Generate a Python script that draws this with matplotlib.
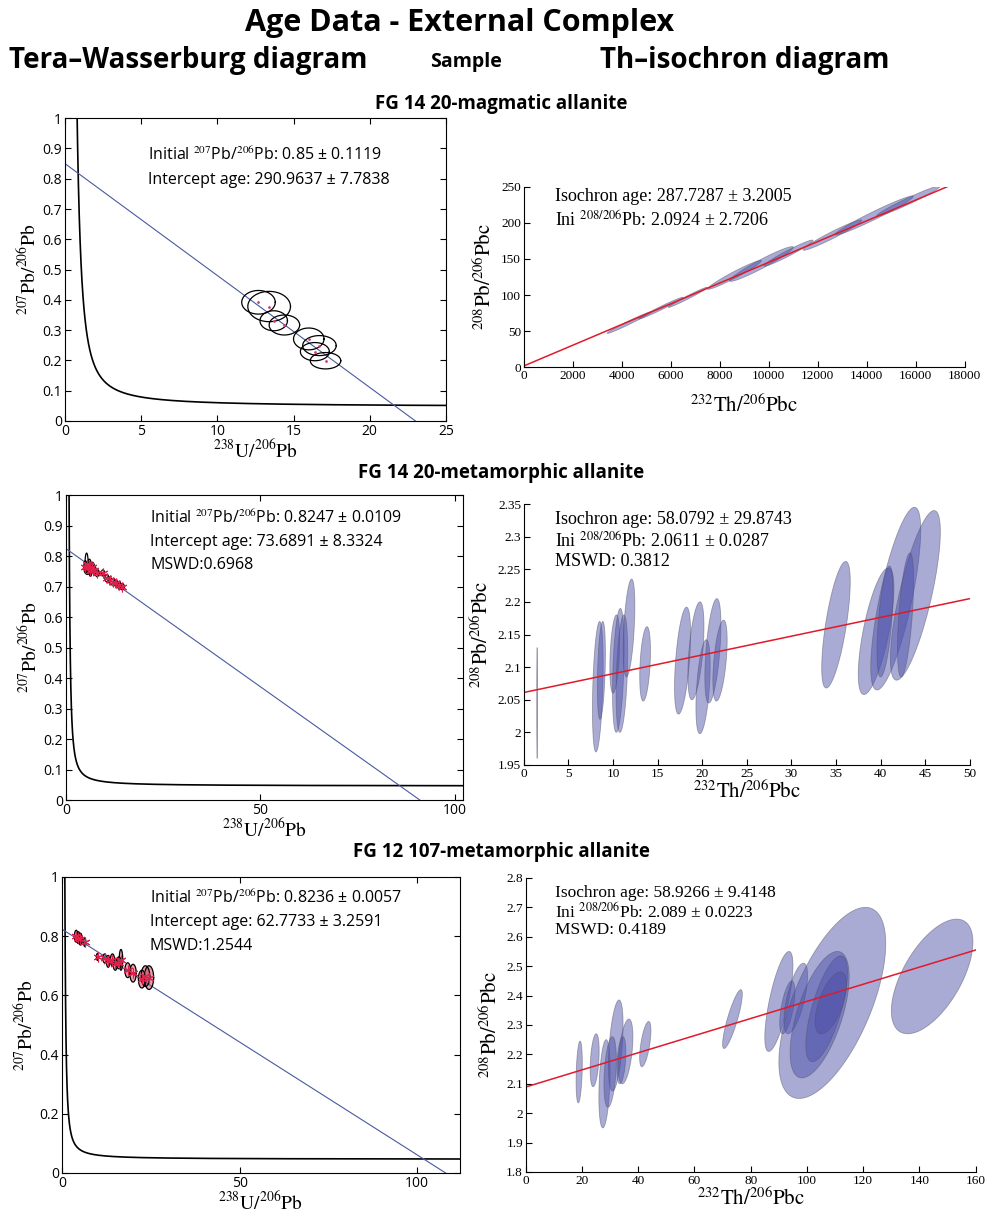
import numpy as np
import matplotlib
matplotlib.use('Agg')
import matplotlib.pyplot as plt

plt.rcParams['mathtext.fontset'] = 'stix'

# ---- data ----
# decay constants for the concordia curve (1/yr)
lam238 = 1.55125e-10
lam235 = 9.8485e-10
u_ratio = 137.88
conc_age = np.linspace(1e6, 6e9, 6000)

# Tera-Wasserburg, regression line: (initial 207/206, x-intercept)
tw1_line = (0.85, 23.0)
tw2_line = (0.8247, 91.0)
tw3_line = (0.8236, 108.0)

# TW error ellipses: centre x, centre y, half width, half height
tw1_x = [12.7, 13.4, 13.7, 14.4, 16.0, 16.7, 16.4, 17.1]
tw1_y = [0.392, 0.378, 0.331, 0.317, 0.271, 0.249, 0.229, 0.199]
tw1_sx = [1.1, 1.4, 0.9, 1.0, 1.0, 1.1, 0.95, 1.0]
tw1_sy = [0.039, 0.050, 0.033, 0.033, 0.036, 0.033, 0.030, 0.027]

tw2_x = [5.0, 5.3, 5.6, 6.0, 6.3, 6.8, 7.3, 8.0, 9.5, 10.5, 11.2, 12.0, 12.8, 13.6, 14.4]
tw2_y = [0.765, 0.775, 0.760, 0.770, 0.752, 0.765, 0.755, 0.745, 0.745, 0.728, 0.722,
         0.715, 0.712, 0.705, 0.700]
tw2_sx = [0.4, 0.4, 0.4, 0.5, 0.4, 0.5, 0.4, 0.5, 0.4, 0.5, 0.5, 0.6, 0.6, 0.6, 0.6]
tw2_sy = [0.020, 0.035, 0.020, 0.020, 0.018, 0.015, 0.015, 0.012, 0.010, 0.012, 0.010,
          0.010, 0.010, 0.010, 0.010]

tw3_x = [4.0, 4.6, 5.2, 6.4, 10.0, 12.0, 13.0, 14.2, 15.0, 16.0, 16.6, 18.5, 20.0, 22.5, 23.5, 24.5]
tw3_y = [0.800, 0.795, 0.790, 0.780, 0.730, 0.725, 0.715, 0.720, 0.705, 0.710, 0.720, 0.685,
         0.675, 0.655, 0.665, 0.660]
tw3_sx = [0.5, 0.5, 0.5, 0.3, 0.3, 0.5, 0.5, 0.6, 0.6, 0.7, 0.5, 0.8, 0.9, 1.0, 1.2, 1.3]
tw3_sy = [0.020, 0.020, 0.020, 0.015, 0.012, 0.015, 0.020, 0.020, 0.020, 0.020, 0.035, 0.025,
          0.030, 0.030, 0.035, 0.040]

# Th isochron: line end points
th1_line = ([0, 17300], [2.0924, 250])
th2_line = ([0, 50], [2.0611, 2.205])
th3_line = ([0, 160], [2.089, 2.555])

# Th isochron error ellipses: centre x, centre y, half width, half height, correlation
th1_x = [4300, 5600, 6700, 8600, 9700, 10800, 12600, 14300, 15700]
th1_y = [62, 82, 97, 128, 143, 158, 183, 210, 230]
th1_sx = [900, 900, 800, 1100, 1300, 1000, 1200, 1600, 1300]
th1_sy = [15, 15, 14, 20, 24, 18, 21, 27, 21]
th1_rho = [0.985, 0.985, 0.985, 0.97, 0.96, 0.97, 0.97, 0.975, 0.975]

th2_x = [1.5, 8.3, 8.7, 10.2, 10.6, 11.0, 11.8, 13.6, 17.8, 19.3, 20.1, 21.2, 22.0,
         35.0, 39.5, 41.7, 43.9, 40.5, 42.8]
th2_y = [2.045, 2.070, 2.095, 2.120, 2.095, 2.090, 2.160, 2.105, 2.110, 2.125, 2.070,
         2.125, 2.110, 2.165, 2.155, 2.205, 2.210, 2.170, 2.180]
th2_sx = [0.05, 0.6, 0.45, 0.55, 0.65, 0.65, 0.65, 0.6, 0.9, 0.9, 0.8, 0.9, 0.8,
          1.6, 2.0, 2.8, 2.8, 0.9, 0.9]
th2_sy = [0.085, 0.100, 0.075, 0.060, 0.095, 0.090, 0.075, 0.057, 0.082, 0.075, 0.072,
          0.080, 0.062, 0.097, 0.097, 0.140, 0.130, 0.085, 0.095]
th2_rho = [0.0, 0.35, 0.35, 0.35, 0.35, 0.35, 0.45, 0.35, 0.5, 0.5, 0.45, 0.5, 0.5,
           0.68, 0.68, 0.75, 0.75, 0.55, 0.55]

th3_x = [19.0, 24.5, 28.0, 32.0, 30.0, 35.5, 34.0, 42.5, 73.5, 90.0, 93.0, 96.0,
         109.0, 104.5, 107.0, 108.5, 144.5]
th3_y = [2.140, 2.180, 2.100, 2.230, 2.140, 2.210, 2.180, 2.235, 2.320, 2.380, 2.360, 2.390,
         2.375, 2.335, 2.355, 2.375, 2.465]
th3_sx = [1.1, 1.6, 2.0, 2.6, 2.2, 2.6, 1.6, 2.0, 3.5, 5.0, 2.7, 4.2,
          19.0, 10.5, 7.4, 5.6, 14.5]
th3_sy = [0.105, 0.090, 0.150, 0.155, 0.120, 0.110, 0.080, 0.077, 0.100, 0.170, 0.090, 0.120,
          0.325, 0.215, 0.180, 0.105, 0.195]
th3_rho = [0.3, 0.35, 0.3, 0.45, 0.35, 0.45, 0.35, 0.6, 0.85, 0.72, 0.6, 0.65,
           0.62, 0.6, 0.68, 0.6, 0.6]

tw_text = [
    ['Initial $^{207}$Pb/$^{206}$Pb: 0.85 \u00b1 0.1119', 'Intercept age: 290.9637 \u00b1 7.7838'],
    ['Initial $^{207}$Pb/$^{206}$Pb: 0.8247 \u00b1 0.0109', 'Intercept age: 73.6891 \u00b1 8.3324',
     'MSWD:0.6968'],
    ['Initial $^{207}$Pb/$^{206}$Pb: 0.8236 \u00b1 0.0057', 'Intercept age: 62.7733 \u00b1 3.2591',
     'MSWD:1.2544'],
]
th_text = [
    ['Isochron age: 287.7287 \u00b1 3.2005', 'Ini $^{208/206}$Pb: 2.0924 \u00b1 2.7206'],
    ['Isochron age: 58.0792 \u00b1 29.8743', 'Ini $^{208/206}$Pb: 2.0611 \u00b1 0.0287',
     'MSWD: 0.3812'],
    ['Isochron age: 58.9266 \u00b1 9.4148', 'Ini $^{208/206}$Pb: 2.089 \u00b1 0.0223',
     'MSWD: 0.4189'],
]
sample_titles = ['FG 14 20-magmatic allanite', 'FG 14 20-metamorphic allanite',
                 'FG 12 107-metamorphic allanite']

sans = ['Open Sans', 'DejaVu Sans']
serif = ['Liberation Serif', 'DejaVu Serif']


def ellipse_xy(cx, cy, sx, sy, rho, n=120):
    t = np.linspace(0, 2 * np.pi, n)
    ex = cx + sx * np.cos(t)
    ey = cy + sy * (rho * np.cos(t) + np.sqrt(1 - rho ** 2) * np.sin(t))
    return ex, ey


def concordia():
    e8 = np.exp(lam238 * conc_age) - 1
    e5 = np.exp(lam235 * conc_age) - 1
    return 1 / e8, e5 / e8 / u_ratio


def tw_panel(rect, line, xs, ys, sxs, sys_, xlim, xticks, yticks, texts, tfrac, mode):
    ax = fig.add_axes(rect)
    cx, cy = concordia()
    ax.plot(cx, cy, color='black', lw=1.2)
    ax.plot([0, line[1]], [line[0], 0], color='#4a5a9e', lw=0.8)
    for x, y, sx, sy in zip(xs, ys, sxs, sys_):
        ex, ey = ellipse_xy(x, y, sx, sy, 0.0)
        if mode == 'red':
            ax.fill(ex, ey, color='#c8304a', alpha=0.45, lw=0)
        ax.plot(ex, ey, color='black', lw=0.9)
    if mode == 'dots':
        ax.plot(xs, ys, '.', color='#d04070', ms=2)
    else:
        ax.plot(xs, ys, ls='none', marker=(6, 2, 0), color='#e0204a', ms=7, mew=0.8)
    ax.set_xlim(*xlim)
    ax.set_ylim(0, 1)
    ax.set_xticks(xticks)
    ax.set_yticks(yticks)
    ax.set_xticklabels(['%g' % v for v in xticks], family=sans, fontsize=10)
    ax.set_yticklabels(['%g' % v for v in yticks], family=sans, fontsize=10)
    ax.tick_params(direction='in', top=True, right=True, length=4, pad=2)
    ax.set_xlabel(r'$^{238}\mathrm{U}/^{206}\mathrm{Pb}$', fontsize=14, labelpad=0)
    ax.set_ylabel(r'$^{207}\mathrm{Pb}/^{206}\mathrm{Pb}$', fontsize=14, labelpad=2)
    for txt, fy in zip(texts, tfrac[1]):
        ax.text(tfrac[0], fy, txt, transform=ax.transAxes, family=sans, fontsize=11.5,
                va='center', ha='left')
    return ax


def th_panel(rect, line, xs, ys, sxs, sys_, rhos, xlim, ylim, xticks, yticks, texts, tfrac,
             fs, xpad):
    ax = fig.add_axes(rect)
    for x, y, sx, sy, r in zip(xs, ys, sxs, sys_, rhos):
        ex, ey = ellipse_xy(x, y, sx, sy, r)
        ax.fill(ex, ey, facecolor='#4c50a8', alpha=0.48, edgecolor='#505060', lw=0.6)
    ax.plot(line[0], line[1], color='#e01a2a', lw=1.1)
    ax.set_xlim(*xlim)
    ax.set_ylim(*ylim)
    ax.set_xticks(xticks)
    ax.set_yticks(yticks)
    ax.set_xticklabels(['%g' % v for v in xticks], family=serif, fontsize=9.5)
    ax.set_yticklabels(['%g' % round(v, 2) for v in yticks], family=serif, fontsize=9.5)
    ax.spines['top'].set_visible(False)
    ax.spines['right'].set_visible(False)
    ax.tick_params(direction='in', length=4, pad=2)
    ax.set_xlabel(r'$^{232}\mathrm{Th}/^{206}\mathrm{Pbc}$', fontsize=15, labelpad=xpad)
    ax.set_ylabel(r'$^{208}\mathrm{Pb}/^{206}\mathrm{Pbc}$', fontsize=15, labelpad=4)
    for txt, fy in zip(texts, tfrac[1]):
        ax.text(tfrac[0], fy, txt, transform=ax.transAxes, family=serif, fontsize=fs,
                va='center', ha='left')
    return ax


fig = plt.figure(figsize=(9.92, 12.16), dpi=100)

fig.text(0.463, 0.981, 'Age Data - External Complex', family=sans, weight='bold',
         fontsize=22, ha='center', va='center')
fig.text(0.19, 0.950, 'Tera\u2013Wasserburg diagram', family=sans, weight='bold',
         fontsize=20, ha='center', va='center')
fig.text(0.47, 0.949, 'Sample', family=sans, weight='bold', fontsize=14,
         ha='center', va='center')
fig.text(0.751, 0.950, 'Th\u2013isochron diagram', family=sans, weight='bold',
         fontsize=20, ha='center', va='center')

for txt, ty in zip(sample_titles, [0.9145, 0.611, 0.2993]):
    fig.text(0.505, ty, txt, family=sans, weight='bold', fontsize=13.5,
             ha='center', va='center')

# top row
tw_panel([0.0655, 0.6538, 0.384, 0.249], tw1_line, tw1_x, tw1_y, tw1_sx, tw1_sy,
         (0, 25), [0, 5, 10, 15, 20, 25], np.round(np.arange(0, 1.01, 0.1), 1),
         tw_text[0], (0.218, [0.878, 0.795]), 'dots')
th_panel([0.528, 0.6978, 0.4446, 0.1488], th1_line, th1_x, th1_y, th1_sx, th1_sy, th1_rho,
         (0, 18000), (0, 250), list(range(0, 18001, 2000)), [0, 50, 100, 150, 200, 250],
         th_text[0], (0.07, [0.947, 0.809]), 13, 8)

# middle row
tw_panel([0.0665, 0.342, 0.400, 0.2508], tw2_line, tw2_x, tw2_y, tw2_sx, tw2_sy,
         (0, 102), [0, 50, 100], np.round(np.arange(0, 1.01, 0.1), 1),
         tw_text[1], (0.212, [0.925, 0.846, 0.770]), 'star')
th_panel([0.528, 0.3709, 0.4496, 0.2146], th2_line, th2_x, th2_y, th2_sx, th2_sy, th2_rho,
         (0, 50), (1.95, 2.35), list(range(0, 51, 5)),
         list(np.round(np.arange(1.95, 2.351, 0.05), 2)),
         th_text[1], (0.0695, [0.939, 0.854, 0.778]), 13, 0)

# bottom row
tw_panel([0.0625, 0.0354, 0.401, 0.2434], tw3_line, tw3_x, tw3_y, tw3_sx, tw3_sy,
         (0, 112), [0, 50, 100], [0, 0.2, 0.4, 0.6, 0.8, 1],
         tw_text[2], (0.221, [0.929, 0.848, 0.767]), 'red')
th_panel([0.530, 0.0362, 0.4536, 0.2418], th3_line, th3_x, th3_y, th3_sx, th3_sy, th3_rho,
         (0, 160), (1.8, 2.8), list(range(0, 161, 20)),
         list(np.round(np.arange(1.8, 2.81, 0.1), 1)),
         th_text[2], (0.064, [0.949, 0.884, 0.823]), 12.5, 0)

fig.savefig('out.png', dpi=100)
